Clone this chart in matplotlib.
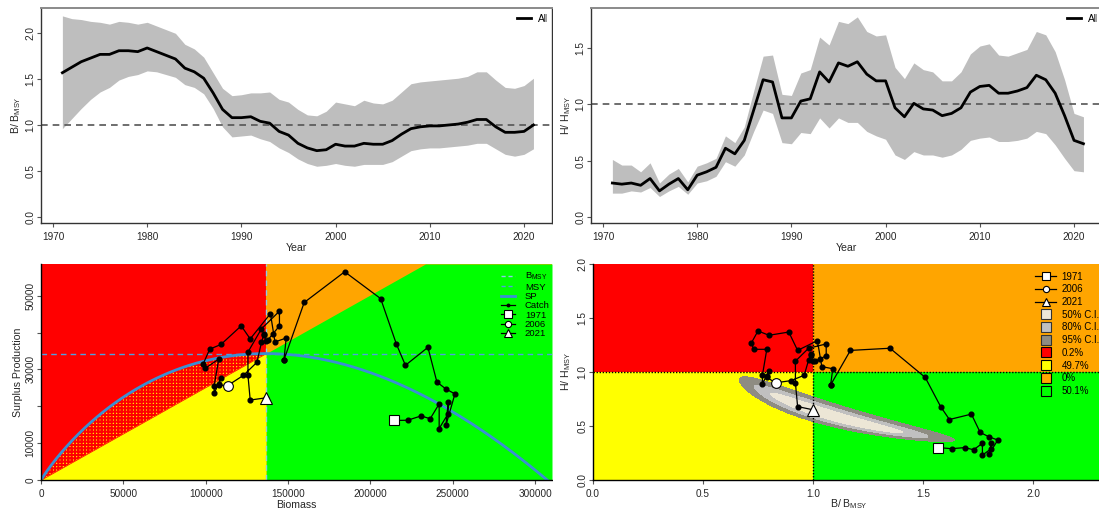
import numpy as np
import matplotlib
matplotlib.use("Agg")
import matplotlib.pyplot as plt
from matplotlib.lines import Line2D
from matplotlib.patches import Rectangle

plt.rcParams['font.family'] = ['Liberation Sans', 'DejaVu Sans']
plt.rcParams['mathtext.default'] = 'regular'
plt.rcParams['hatch.linewidth'] = 1.5
plt.rcParams['hatch.color'] = '#ff0000'

# ---------------- data ----------------
years = list(range(1971, 2022))
bb_med = [1.57, 1.63, 1.69, 1.73, 1.77, 1.77, 1.81, 1.81, 1.80, 1.84,
          1.80, 1.76, 1.72, 1.62, 1.58, 1.51, 1.35, 1.17, 1.08, 1.08,
          1.09, 1.04, 1.02, 0.93, 0.89, 0.80, 0.75, 0.72, 0.73, 0.79,
          0.77, 0.77, 0.80, 0.79, 0.79, 0.83, 0.90, 0.96, 0.98, 0.99,
          0.99, 1.00, 1.01, 1.03, 1.06, 1.06, 0.98, 0.92, 0.92, 0.93, 1.00]
bb_hi = [2.19, 2.16, 2.15, 2.13, 2.12, 2.10, 2.13, 2.12, 2.10, 2.12,
         2.08, 2.04, 2.00, 1.88, 1.83, 1.74, 1.57, 1.40, 1.32, 1.33,
         1.35, 1.35, 1.36, 1.28, 1.25, 1.17, 1.11, 1.10, 1.15, 1.25,
         1.23, 1.21, 1.27, 1.24, 1.23, 1.27, 1.36, 1.45, 1.47, 1.48,
         1.49, 1.50, 1.51, 1.53, 1.58, 1.58, 1.49, 1.41, 1.40, 1.43, 1.51]
bb_lo = [0.96, 1.07, 1.18, 1.28, 1.36, 1.41, 1.49, 1.53, 1.55, 1.59,
         1.58, 1.55, 1.52, 1.44, 1.41, 1.34, 1.18, 0.98, 0.87, 0.88,
         0.89, 0.85, 0.82, 0.75, 0.70, 0.63, 0.58, 0.55, 0.56, 0.58,
         0.56, 0.55, 0.57, 0.57, 0.57, 0.60, 0.66, 0.72, 0.74, 0.75,
         0.75, 0.76, 0.77, 0.78, 0.80, 0.80, 0.74, 0.68, 0.66, 0.68, 0.74]

hh_med = [0.30, 0.29, 0.30, 0.28, 0.34, 0.23, 0.29, 0.34, 0.24, 0.37,
          0.40, 0.44, 0.61, 0.56, 0.68, 0.95, 1.22, 1.20, 0.88, 0.88,
          1.03, 1.05, 1.29, 1.20, 1.37, 1.34, 1.38, 1.27, 1.21, 1.21,
          0.97, 0.89, 1.01, 0.96, 0.95, 0.90, 0.92, 0.97, 1.11, 1.16,
          1.17, 1.10, 1.10, 1.12, 1.15, 1.26, 1.22, 1.10, 0.90, 0.68, 0.65]
hh_hi = [0.51, 0.46, 0.46, 0.40, 0.48, 0.30, 0.38, 0.43, 0.31, 0.45,
         0.48, 0.52, 0.72, 0.66, 0.80, 1.12, 1.43, 1.44, 1.09, 1.08,
         1.28, 1.31, 1.60, 1.53, 1.74, 1.72, 1.78, 1.65, 1.61, 1.62,
         1.33, 1.23, 1.37, 1.31, 1.29, 1.21, 1.21, 1.29, 1.45, 1.52,
         1.54, 1.44, 1.43, 1.46, 1.49, 1.65, 1.62, 1.47, 1.22, 0.92, 0.89]
hh_lo = [0.21, 0.21, 0.23, 0.22, 0.26, 0.18, 0.23, 0.27, 0.20, 0.30,
         0.32, 0.36, 0.49, 0.45, 0.55, 0.76, 0.95, 0.92, 0.66, 0.65,
         0.75, 0.74, 0.88, 0.79, 0.88, 0.84, 0.84, 0.76, 0.72, 0.69,
         0.55, 0.51, 0.58, 0.55, 0.55, 0.53, 0.55, 0.60, 0.68, 0.70,
         0.71, 0.67, 0.67, 0.68, 0.70, 0.76, 0.74, 0.64, 0.52, 0.41, 0.40]

B_MSY = 136600.0      # biomass at MSY
MSY = 34300.0         # maximum sustainable yield
SHAPE_M = 1.5         # Pella-Tomlinson shape

marked_years = [1971, 2006, 2021]
marked_symbols = ['s', 'o', '^']
ci_labels = ['50% C.I.', '80% C.I.', '95% C.I.']
ci_colors = ['#ece6d6', '#c0c0c0', '#8e8c82']
zone_labels = ['0.2%', '49.7%', '0%', '50.1%']
zone_colors = ['#ff0000', '#ffff00', '#ffa500', '#00ff00']

# final-year posterior region shape (log B, log H space)
post_center_B = 1.044
post_center_H = 0.582
post_dir = (0.6717, -0.7408)
post_bend = 0.045
ci_major = [0.41, 0.536, 0.658]    # half-lengths for 50, 80, 95 %
ci_minor = [0.050, 0.085, 0.125]   # half-widths for 50, 80, 95 %

# ---------------- figure ----------------
W, H = 1099, 513
fig = plt.figure(figsize=(W / 100, H / 100), dpi=100)


def px_axes(x0, y0, x1, y1, z):
    ax = fig.add_axes([x0 / W, 1 - y1 / H, (x1 - x0) / W, (y1 - y0) / H])
    ax.set_zorder(z)
    return ax


ax_tl = px_axes(41, 8, 552, 223, 0)
ax_tr = px_axes(591, 8, 1102, 223, 2)
ax_bl = px_axes(41, 264, 552, 480, 0)
ax_br = px_axes(593, 264, 1104, 480, 2)

fig.add_artist(Rectangle((552.7 / W, 0), 1, 1, transform=fig.transFigure,
                         facecolor='white', edgecolor='none', zorder=1))

TICK_FS = 7.2
LAB_FS = 7.6
TXT = '#262626'


def style_ticks(ax):
    ax.tick_params(axis='both', direction='out', length=3.0, width=0.8,
                   color='#555555', labelsize=TICK_FS, labelcolor=TXT)
    ax.tick_params(axis='x', pad=3.2)
    ax.tick_params(axis='y', pad=1.2, labelrotation=90)
    for lab in ax.get_yticklabels():
        lab.set_va('center')


def set_labels(ax, xl, yl, x_center_px, y_center_px, box):
    x0, y0, x1, y1 = box
    ax.set_xlabel(xl, fontsize=LAB_FS, color=TXT, va='center')
    ax.set_ylabel(yl, fontsize=LAB_FS, color=TXT, va='center')
    ax.xaxis.set_label_coords(0.5, (y1 - y_center_px) / (y1 - y0))
    ax.yaxis.set_label_coords((x_center_px - x0) / (x1 - x0), 0.5)


# ---------- top panels ----------
def top_panel(ax, med, lo, hi, ylim, yticks, ylab, box, ylab_x, clip_right):
    ax.fill_between(years, lo, hi, color='#bebebe', lw=0, zorder=1)
    ax.axhline(1.0, color='#555555', ls=(0, (4, 3)), lw=1.2, zorder=2)
    ax.plot(years, med, color='black', lw=2.0, zorder=3)
    ax.set_xlim(1968.73, 2022.97)
    ax.set_ylim(*ylim)
    ax.set_xticks(range(1970, 2021, 10))
    ax.set_yticks(yticks)
    ax.set_yticklabels([f'{v:.1f}' for v in yticks])
    style_ticks(ax)
    for s in ['left', 'bottom', 'right']:
        ax.spines[s].set_color('#333333')
        ax.spines[s].set_linewidth(1.0)
    ax.spines['top'].set_color('#8a8a8a')
    ax.spines['top'].set_linewidth(1.4)
    set_labels(ax, 'Year', ylab, ylab_x, 248, box)
    leg = ax.legend(handles=[Line2D([], [], color='black', lw=2)], labels=['All'],
                    loc='center left', bbox_to_anchor=(475.7 / 511, (223 - 19) / 215),
                    frameon=False, fontsize=7.3, handlelength=1.45,
                    handletextpad=0.6, borderpad=0, borderaxespad=0)
    cp = Rectangle((0, 0), clip_right / W, 1, transform=fig.transFigure)
    for t in leg.get_texts():
        t.set_clip_path(cp)


top_panel(ax_tl, bb_med, bb_lo, bb_hi, (-0.069, 2.276), [0.0, 0.5, 1.0, 1.5, 2.0],
          r'B/ B$_{MSY}$', (41, 8, 552, 223), 15.8, 546.8)
top_panel(ax_tr, hh_med, hh_lo, hh_hi, (-0.056, 1.859), [0.0, 0.5, 1.0, 1.5],
          r'H/ H$_{MSY}$', (591, 8, 1102, 223), 565.8, 1096.8)

# ---------- bottom-left: surplus production phase ----------
XMAX, YMAX = 310300.0, 58600.0
K = B_MSY * SHAPE_M ** (1.0 / (SHAPE_M - 1.0))
H_MSY = MSY / B_MSY


def surplus(b):
    b = np.asarray(b, dtype=float)
    f = b * (1 - (b / K) ** (SHAPE_M - 1))
    fm = B_MSY * (1 - (B_MSY / K) ** (SHAPE_M - 1))
    return MSY * f / fm


biomass = np.array(bb_med) * B_MSY
catch = np.array(hh_med) * np.array(bb_med) * MSY

ax = ax_bl
ax.fill_between([0, B_MSY], 0, YMAX, color=zone_colors[0], lw=0, zorder=0)
ax.fill_between([B_MSY, XMAX], 0, YMAX, color=zone_colors[2], lw=0, zorder=0)
xg = np.linspace(B_MSY, XMAX, 300)
ax.fill_between(xg, 0, np.minimum(xg * H_MSY, YMAX), color=zone_colors[3], lw=0, zorder=0)
xl = np.linspace(0, B_MSY, 400)
ax.fill_between(xl, 0, xl * H_MSY, color=zone_colors[1], lw=0, zorder=0)
ax.fill(np.concatenate([xl, xl[::-1]]),
        np.concatenate([xl * H_MSY, surplus(xl[::-1])]),
        facecolor=zone_colors[1], edgecolor='#ff0000', hatch='+++++', lw=0, zorder=0.5)

ax.axvline(B_MSY, color='#8ec8ee', ls=(0, (4, 3)), lw=1.0, zorder=1)
ax.axhline(MSY, color='#4f9fe0', ls=(0, (4, 3)), lw=1.0, zorder=1)
xs = np.linspace(0, XMAX, 600)
ax.plot(xs, surplus(xs), color='#3b8fd3', lw=2.0, zorder=2)
ax.plot(biomass, catch, color='black', lw=0.9, marker='o', ms=3.4, zorder=3)
for yr, mk, ms in zip(marked_years, marked_symbols, [7, 7, 8.5]):
    i = years.index(yr)
    ax.plot(biomass[i], catch[i], marker=mk, ms=ms, mfc='white', mec='black',
            mew=0.8, ls='none', zorder=4)

ax.set_xlim(0, XMAX)
ax.set_ylim(0, YMAX)
ax.set_xticks(range(0, 300001, 50000))
ax.set_xticklabels([str(v) for v in range(0, 300001, 50000)])
ax.set_yticks(range(0, 50001, 10000))
ax.set_yticklabels(['0', '10000', '', '30000', '', '50000'])
style_ticks(ax)
for s in ['top', 'right']:
    ax.spines[s].set_visible(False)
for s in ['left', 'bottom']:
    ax.spines[s].set_color('black')
    ax.spines[s].set_linewidth(1.0)
set_labels(ax, 'Biomass', 'Surplus Production', 18, 505, (41, 264, 552, 480))

bl_handles = [
    Line2D([], [], color='#8ec8ee', ls=(0, (3, 2)), lw=1.0),
    Line2D([], [], color='#4f9fe0', ls=(0, (3, 2)), lw=1.0),
    Line2D([], [], color='#3b8fd3', lw=2.0),
    Line2D([], [], color='black', lw=0.9, marker='o', ms=1.8),
]
bl_labels = [r'B$_{MSY}$', 'MSY', 'SP', 'Catch']
for yr, mk, ms in zip(marked_years, marked_symbols, [5.5, 4.5, 6]):
    bl_handles.append(Line2D([], [], color='black', lw=0.9, marker=mk, ms=ms,
                             mfc='white', mec='black', mew=0.8))
    bl_labels.append(str(yr))
leg = ax.legend(bl_handles, bl_labels, loc='upper left',
                bbox_to_anchor=(459.7 / 511, (480 - 271.0) / 216), frameon=False,
                fontsize=6.8, handlelength=1.51, handletextpad=1.06,
                labelspacing=0.03, borderpad=0, borderaxespad=0)
leg.set_zorder(10)

# ---------- bottom-right: Kobe plot ----------
ax = ax_br
KX = 2.3227
ax.fill_between([0, 1], 1, 2, color=zone_colors[0], lw=0, zorder=0)
ax.fill_between([1, KX], 1, 2, color=zone_colors[2], lw=0, zorder=0)
ax.fill_between([0, 1], 0, 1, color=zone_colors[1], lw=0, zorder=0)
ax.fill_between([1, KX], 0, 1, color=zone_colors[3], lw=0, zorder=0)

bg = np.linspace(0.45, 2.2, 700)
hg = np.linspace(0.12, 1.4, 700)
BG, HG = np.meshgrid(bg, hg)
lx = np.log(BG) - np.log(post_center_B)
ly = np.log(HG) - np.log(post_center_H)
u = lx * post_dir[0] + ly * post_dir[1]
w = -lx * post_dir[1] + ly * post_dir[0]
U = ci_major[-1]
wc = post_bend * (1 - (u / U) ** 2)
for k in [2, 1, 0]:
    D = np.sqrt((u / ci_major[k]) ** 2 + ((w - wc) / ci_minor[k]) ** 2)
    ax.contourf(BG, HG, D, levels=[0, 1], colors=[ci_colors[k]], zorder=1 + 0.1 * (3 - k))

ax.axvline(1.0, color='black', ls=(0, (1, 1.2)), lw=1.0, zorder=2)
ax.axhline(1.0, color='black', ls=(0, (1, 1.2)), lw=1.0, zorder=2)
ax.plot(bb_med, hh_med, color='black', lw=0.9, marker='o', ms=3.4, zorder=3)
for yr, mk, ms in zip(marked_years, marked_symbols, [7, 7, 8.5]):
    i = years.index(yr)
    ax.plot(bb_med[i], hh_med[i], marker=mk, ms=ms, mfc='white', mec='black',
            mew=0.8, ls='none', zorder=4)

ax.set_xlim(0, KX)
ax.set_ylim(0, 2)
ax.set_xticks([0.0, 0.5, 1.0, 1.5, 2.0])
ax.set_xticklabels(['0.0', '0.5', '1.0', '1.5', '2.0'])
ax.set_yticks([0.0, 0.5, 1.0, 1.5, 2.0])
ax.set_yticklabels(['0.0', '0.5', '1.0', '1.5', '2.0'])
style_ticks(ax)
for s in ['top', 'right']:
    ax.spines[s].set_visible(False)
for s in ['left', 'bottom']:
    ax.spines[s].set_color('black')
    ax.spines[s].set_linewidth(1.0)
set_labels(ax, r'B/ B$_{MSY}$', r'H/ H$_{MSY}$', 566, 504, (593, 264, 1104, 480))

k_handles, k_labels = [], []
for yr, mk, ms in zip(marked_years, marked_symbols, [5.5, 4.5, 6]):
    k_handles.append(Line2D([], [], color='black', lw=0.9, marker=mk, ms=ms,
                            mfc='white', mec='black', mew=0.8))
    k_labels.append(str(yr))
for lab, col in zip(ci_labels, ci_colors):
    k_handles.append(Line2D([], [], ls='none', marker='s', ms=6.5, mfc=col,
                            mec='#333333', mew=0.8))
    k_labels.append(lab)
for lab, col in zip(zone_labels, zone_colors):
    k_handles.append(Line2D([], [], ls='none', marker='s', ms=7, mfc=col,
                            mec='black', mew=0.8))
    k_labels.append(lab)
leg = ax.legend(k_handles, k_labels, loc='upper left',
                bbox_to_anchor=(442 / 511, (480 - 271.5) / 216), frameon=False,
                fontsize=7.0, handlelength=2.16, handletextpad=0.59,
                labelspacing=0.28, borderpad=0, borderaxespad=0)
leg.set_zorder(10)

fig.savefig('out.png', dpi=100)
